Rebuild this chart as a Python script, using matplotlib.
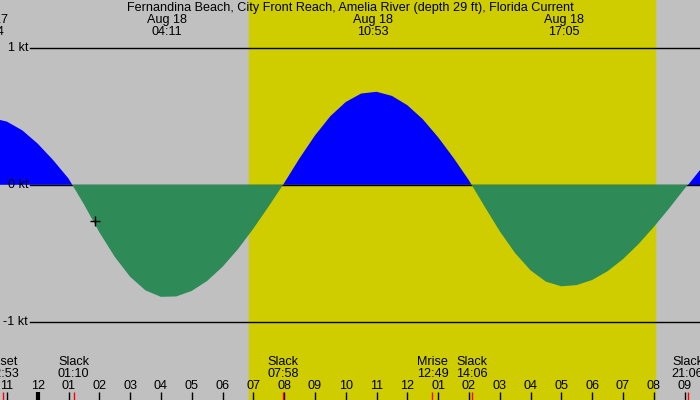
import numpy as np
import matplotlib.pyplot as plt
import matplotlib.transforms as mtransforms

TITLE = "Fernandina Beach, City Front Reach, Amelia River (depth 29 ft), Florida Current"

# hours since midnight Aug 18, half-hour steps (knots)
hours = np.arange(-1.5, 21.51, 0.5)
current_kt = [
    0.489, 0.462, 0.398, 0.301, 0.181, 0.046,
    -0.142, -0.346, -0.526, -0.672, -0.772, -0.819,
    -0.816, -0.776, -0.703, -0.600, -0.471, -0.321, -0.158,
    0.012, 0.193, 0.360, 0.501, 0.605, 0.667,
    0.680, 0.650, 0.582, 0.480, 0.348, 0.197, 0.033,
    -0.155, -0.339, -0.499, -0.625, -0.708, -0.742,
    -0.733, -0.696, -0.632, -0.544, -0.435, -0.309, -0.173, -0.029,
    0.110,
]

# max flood / ebb labels along the top
max_hours = [-1.6, 4.183, 10.883, 17.083]
max_labels = ["Aug 17\n22:24", "Aug 18\n04:11", "Aug 18\n10:53", "Aug 18\n17:05"]

# slack and moon events along the bottom
event_hours = [-1.117, 1.167, 7.967, 12.817, 14.1, 21.1]
event_labels = ["Mset\n22:53", "Slack\n01:10", "Slack\n07:58", "Mrise\n12:49", "Slack\n14:06", "Slack\n21:06"]

sunrise, sunset = 6.86, 20.04
now_hour, now_kt = 1.87, -0.267

kt_levels = [1, 0, -1]
kt_labels = ["1 kt", "0 kt", "-1 kt"]
hour_ticks = list(range(-1, 22))
hour_labels = ["11", "12"] + ["%02d" % (h % 12 if h % 12 else 12) for h in range(1, 22)]

GRAY = "#c0c0c0"
DAY = "#cfcd00"
FLOOD = "#0000ff"
EBB = "#2e8b57"

plt.rcParams["font.family"] = ["Liberation Sans", "DejaVu Sans"]
fs = 9.1

fig = plt.figure(figsize=(7, 4), dpi=100)
ax = fig.add_axes([0, 0, 1, 1])
ax.set_facecolor(GRAY)
fig.patch.set_facecolor(GRAY)
ax.set_xlim(-37.7 / 30.8, (700 - 37.7) / 30.8)
ax.set_ylim((184.8 - 400) / 136.8, 184.8 / 136.8)
ax.axis("off")

ax.axvspan(sunrise, sunset, color=DAY, zorder=0)

v = np.array(current_kt)
ax.fill_between(hours, 0, v, where=v >= 0, interpolate=True, color=FLOOD, lw=0, zorder=1.5)
ax.fill_between(hours, 0, v, where=v <= 0, interpolate=True, color=EBB, lw=0, zorder=2.5)

# kt reference lines with labels
x_left = ax.get_xlim()[0]
for lvl, lab in zip(kt_levels, kt_labels):
    ax.plot([x_left + 30 / 30.8, ax.get_xlim()[1]], [lvl, lvl], color="black", lw=1, zorder=2)
    ax.text(x_left + 28 / 30.8, lvl, lab, ha="right", va="center", fontsize=fs, zorder=3)

ax.plot([now_hour], [now_kt], marker="+", color="black", ms=6.5, mew=1, zorder=4)

trans = mtransforms.blended_transform_factory(ax.transData, ax.transAxes)
ax.text(0.5, 1 - 8 / 400, TITLE, transform=ax.transAxes, ha="center", va="center", fontsize=fs)
for h, lab in zip(max_hours, max_labels):
    ax.text(h, 1 - 26 / 400, lab, transform=trans, ha="center", va="center",
            fontsize=fs, linespacing=1.0)
for h, lab in zip(event_hours, event_labels):
    ax.text(h, 1 - 368 / 400, lab, transform=trans, ha="center", va="center",
            fontsize=fs, linespacing=1.0)

# hour ticks
for h, lab in zip(hour_ticks, hour_labels):
    ax.text(h, 1 - 386 / 400, lab, transform=trans, ha="center", va="center", fontsize=fs)
    ax.plot([h, h], [0, 8 / 400], transform=trans, color="black",
            lw=3 if h == 0 else 1, solid_capstyle="butt", zorder=3)
for h in event_hours:
    ax.plot([h, h], [0, 8 / 400], transform=trans, color="red", lw=1,
            solid_capstyle="butt", zorder=3)

fig.savefig("out.png", dpi=100, facecolor=GRAY)
